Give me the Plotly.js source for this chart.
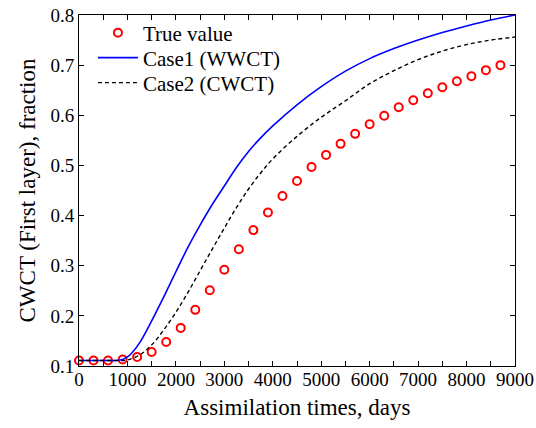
<!DOCTYPE html>
<html>
<head>
<meta charset="utf-8">
<script src="https://cdn.plot.ly/plotly-3.0.1.min.js"></script>
<style>html,body{margin:0;padding:0;background:#fff;}#chart{width:536px;height:428px;}</style>
</head>
<body>
<div id="chart"></div>
<script>
// True value (circles)
var trueDays = [0,300,600,900,1200,1500,1800,2100,2400,2700,3000,3300,3600,3900,4200,4500,4800,5100,5400,5700,6000,6300,6600,6900,7200,7500,7800,8100,8400,8700];
var trueVals = [0.111,0.111,0.111,0.113,0.118,0.128,0.148,0.176,0.212,0.251,0.292,0.333,0.371,0.406,0.439,0.469,0.497,0.521,0.543,0.563,0.582,0.599,0.616,0.630,0.644,0.656,0.668,0.678,0.690,0.700];

// Case1 (WWCT) - blue solid
var case1Days = [0,250,500,750,900,1000,1100,1250,1500,1750,2000,2250,2500,2750,3000,3250,3500,3750,4000,4500,5000,5500,6000,6500,7000,7500,8000,8500,9000];
var case1Vals = [0.111,0.111,0.111,0.111,0.113,0.118,0.127,0.146,0.190,0.238,0.288,0.337,0.381,0.422,0.459,0.496,0.528,0.555,0.579,0.621,0.657,0.688,0.713,0.733,0.750,0.765,0.778,0.790,0.800];

// Case2 (CWCT) - black dashed
var case2Days = [0,500,900,1000,1250,1500,1750,2000,2250,2500,2750,3000,3250,3500,3750,4000,4500,5000,5500,6000,6500,7000,7500,8000,8500,9000];
var case2Vals = [0.111,0.111,0.111,0.112,0.122,0.142,0.172,0.207,0.247,0.290,0.333,0.375,0.416,0.453,0.485,0.513,0.558,0.596,0.629,0.663,0.689,0.711,0.728,0.741,0.750,0.756];

var xTitle = "Assimilation times, days";
var yTitle = "CWCT (First layer), fraction";
var names = ["True value", "Case1 (WWCT)", "Case2 (CWCT)"];

var FONT = "Liberation Serif";

var traces = [
  {x: trueDays, y: trueVals, name: names[0], type: 'scatter', mode: 'markers',
   cliponaxis: false, legend: 'legend',
   marker: {symbol: 'circle-open', size: 8, color: '#ff0000', line: {color: '#ff0000', width: 2}}},
  {x: case1Days, y: case1Vals, name: names[1], type: 'scatter', mode: 'lines', legend: 'legend2',
   line: {color: '#0000ff', width: 1.6, shape: 'spline', smoothing: 1}},
  {x: case2Days, y: case2Vals, name: names[2], type: 'scatter', mode: 'lines', legend: 'legend3',
   line: {color: '#000000', width: 1.4, dash: '4px,3px', shape: 'spline', smoothing: 1}}
];

function leg(yc) {
  return {x: 0.032, y: yc, xanchor: 'left', yanchor: 'middle', bgcolor: 'rgba(0,0,0,0)',
          font: {family: FONT, size: 21, color: '#000'}, itemwidth: 40};
}

var layout = {
  width: 536, height: 428,
  margin: {l: 79, r: 21, t: 15, b: 62},
  paper_bgcolor: '#ffffff', plot_bgcolor: '#ffffff',
  font: {family: FONT, size: 19, color: '#000'},
  showlegend: true,
  legend: leg(0.9487),
  legend2: leg(0.8775),
  legend3: leg(0.8063),
  xaxis: {
    range: [0, 9000], dtick: 1000, tick0: 0,
    showgrid: false, zeroline: false,
    showline: true, linecolor: '#000', linewidth: 1, mirror: 'ticks',
    ticks: 'inside', ticklen: 5, tickcolor: '#000', tickwidth: 1,
    ticklabelstandoff: -4,
    minor: {dtick: 500, ticks: 'inside', ticklen: 5, tickcolor: '#000', showgrid: false},
    tickfont: {family: FONT, size: 19, color: '#000'},
    title: {text: xTitle, font: {family: FONT, size: 23, color: '#000'}, standoff: 10}
  },
  yaxis: {
    range: [0.1, 0.8], dtick: 0.1, tick0: 0.1, tickformat: '.1f',
    showgrid: false, zeroline: false,
    showline: true, linecolor: '#000', linewidth: 1, mirror: 'ticks',
    ticks: 'inside', ticklen: 5, tickcolor: '#000', tickwidth: 1,
    tickfont: {family: FONT, size: 19, color: '#000'},
    title: {text: yTitle, font: {family: FONT, size: 23, color: '#000'}, standoff: 8}
  }
};

Plotly.newPlot('chart', traces, layout, {displayModeBar: false, staticPlot: true});
</script>
</body>
</html>
